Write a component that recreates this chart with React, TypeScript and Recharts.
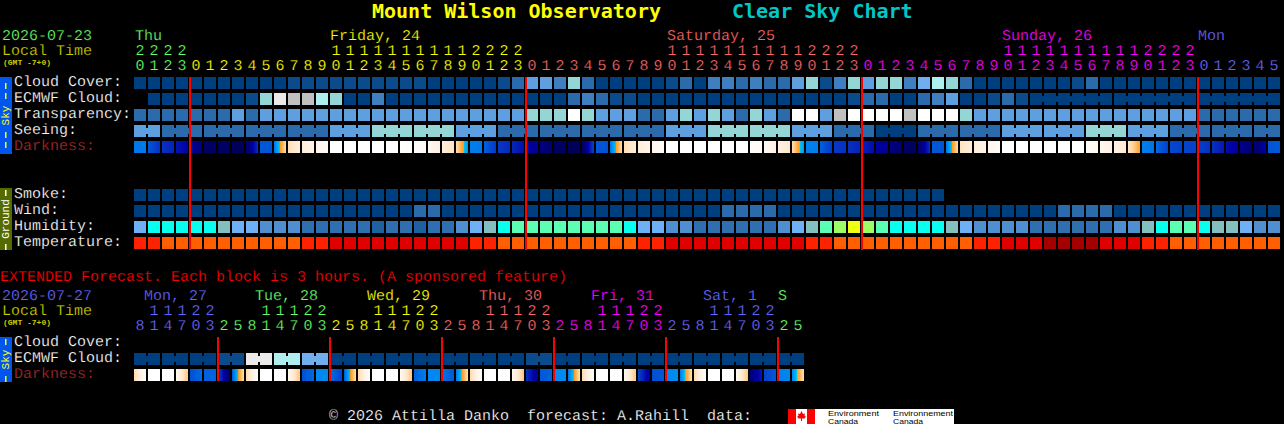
import React from 'react';
import { ScatterChart, Scatter, XAxis, YAxis } from 'recharts';

// --- data ---

// Index into cloudColors for cloud, ecmwf, transparency, seeing, smoke, wind
const cloudCover = [
  0,0,0,0,0,0,0,0,0,0, 0,1,1,1,1,1,1,1,1,1, 1,0,0,0,0,0,1,2,4,4,
  3,6,2,0,0,0,0,0,1,2, 0,3,3,2,3,2,2,4,6,1, 3,6,4,6,6,3,5,7,6,2,
  0,0,0,0,0,0,0,1,2,0, 0,0,0,0,0,0,0,0,0,0, 0,0,
];
const ecmwfCloud = [
  null,0,0,0,0,0,0,0,1,6, 8,9,9,7,6,0,0,3,0,0, 0,0,0,0,0,0,0,0,0,0,
  0,2,3,2,1,1,0,0,0,0, 0,0,0,0,0,0,0,0,0,0, 0,1,2,2,0,0,2,3,4,0,
  0,1,2,1,0,0,0,0,0,0, 0,0,0,0,0,0,0,0,0,0, 0,0,
];
const transparency = [
  2,2,2,2,2,2,2,4,2,4, 4,4,4,4,4,4,4,4,4,4, 4,4,4,4,4,4,4,4,6,6,
  6,10,6,4,4,4,2,2,4,6, 4,6,4,2,6,4,2,10,10,4, 9,10,10,10,10,9,10,10,10,6,
  4,4,4,4,4,4,4,4,4,4, 4,4,4,4,4,4,2,2,2,2, 2,2,
];
const seeing = [
  4,4, 2,2,2, 2,2,2, 2,2,2, 2,2,2, 4,4,4, 6,6,6, 6,6,6, 4,4,4, 2,2,2, 2,2,2,
  2,2,2, 2,2,2, 4,4,4, 6,6,6, 6,6,6, 4,4,4, 2,2,2, 0,0,0, 2,2,2, 2,2,2,
  4,4,4, 4,4,4, 6,6,6, 4,4,4, 2,2,2, 2,2,2, 2,2,
];
const smoke = [
  0,0,0,0,0,0,0,0,0,0, 0,0,0,0,0,0,0,0,0,0, 0,0,0,0,0,0,0,0,0,0,
  0,0,0,0,0,0,0,0,0,0, 0,0,0,0,0,0,0,0,0,0, 0,0,0,0,0,0,0,0,
];
const wind = [
  0,0,0,0,0,0,0,0,0,0, 0,0,0,0,0,0,0,0,0,0, 2,2,0,0,0,0,0,0,0,0,
  0,0,0,0,0,0,0,0,0,0, 0,0,2,2,2,2,0,0,0,0, 0,0,0,0,0,0,0,0,0,0,
  0,0,0,0,0,0,2,2,2,2, 0,0,0,0,0,0,0,0,0,0, 0,0,
];
const humidity = [
  0,1,1,1,1,1,2,0,0,3, 3,3,4,4,4,4,4,5,4,4, 5,4,4,3,0,2,1,6,6,6,
  6,6,6,6,6,1,0,0,3,3, 4,4,4,4,4,4,3,0,2,6, 7,8,7,6,1,1,1,1,2,0,
  3,3,3,3,4,4,4,4,4,4, 3,3,2,1,6,6,1,2,2,0, 3,3,
];
const temperature = [
  0,0,1,1,1,1,1,1,1,1, 1,1,0,0,2,2,2,2,2,2, 2,2,2,2,0,0,1,1,1,1,
  1,1,1,1,1,1,0,0,2,2, 2,2,2,2,2,2,2,2,0,0, 1,1,1,1,1,1,1,1,1,1,
  0,0,2,2,2,3,3,3,3,2, 2,2,0,0,1,1,1,1,1,1, 1,1,
];
// Darkness on a 0 (daylight) .. 11 (dark night) scale, at the start and end of each block
const darkStart = [
  6.3,7,8,8.6,9.2,10.5,10.6,10.7,10.5,7, 6.5,2.4,1.6,1,0,0,0,0,0,0,
  0.2,0.7,1.5,2.5,6.2,6.8,7.8,8.2,9,9.8, 10.6,10.8,10.7,7,6.5,2.4,1.6,0.9,0,0,
  0,0,0,0,0.2,0.6,1.2,2.5,6.2,6.8, 7.8,8,8.3,9,9.8,10.5,10.5,7,6.5,2.2,
  1.5,0.9,0,0,0,0,0,0,0.3,0.8, 1.2,2,6.2,6.6,7.4,7.5,7.6,8,8.7,9.5, 10.4,7.1,
];
const darkEnd = [
  6.3,8,8.3,9,10,10.5,10.6,10.7,8,7.1, 2.5,1.5,1,0.5,0,0,0,0,0,0.2,
  0.4,1.4,2.2,5.6,6.3,7.8,8.2,8.7,9.5,10.3, 10.6,10.8,7.5,7.2,2.5,1.6,1,0.4,0,0,
  0,0,0,0,0.4,1.3,2,5.6,6.2,7.8, 8,8.3,8.8,9.5,10.2,10.6,8,7.1,2.5,1.6,
  1,0.4,0,0,0,0,0,0,0.6,1.3, 1.8,4.2,6.4,7.6,7.6,7.6,8,8.5,9.3,10.2, 9,7,
];

const extEcmwf = [
  0,0,0,0,0,0,1,1,8,8, 7,7,5,5,0,0,0,0,0,0, 0,0,0,0,0,0,0,0,1,1,
  0,0,0,0,0,0,0,0,0,0, 0,0,0,0,0,0,0,0,
];
const extDarkStart = [
  2.6,0,0,0.6,7.2,6.8,7.5,7, 2.6,0,0,0.6,7.2,6,6.5,7, 2.6,0,0,0.6,6.8,6,6.4,6.4,
  2.6,0,0,0.6,8,7,6,6.5, 2.6,0,0,0.6,7.5,7.2,6,6.3, 2.6,0,0,0.6,10,7.5,6.2,6,
];
const extDarkEnd = [
  0.2,0,0,3.3,6.6,6.8,10.5,2.4, 0.2,0,0,3.3,6.6,6,7.5,2.4, 0.2,0,0,3.3,6.2,6,7,2.4,
  0.2,0,0,3.3,9.5,6.8,5.9,2.4, 0.2,0,0,3.3,9.5,7,5.9,2.4, 0.2,0,0,3.3,8.5,7,6,2.4,
];

const mainHours = [20,21,22,23,0,1,2,3,4,5,6,7,8,9,10,11,12,13,14,15,16,17,18,19,20,21,22,23,0,1,2,3,4,5,6,7,8,9,10,11,12,13,14,15,16,17,18,19,20,21,22,23,0,1,2,3,4,5,6,7,8,9,10,11,12,13,14,15,16,17,18,19,20,21,22,23,0,1,2,3,4,5];
const extHours = [8,11,14,17,20,23,2,5,8,11,14,17,20,23,2,5,8,11,14,17,20,23,2,5,8,11,14,17,20,23,2,5,8,11,14,17,20,23,2,5,8,11,14,17,20,23,2,5];
const midnights = [4, 28, 52, 76];
const extMidnights = [6, 14, 22, 30, 38, 46];

const mainDays = [
  { text: 'Thu', x: 135, color: '#66ff66', from: 0 },
  { text: 'Friday, 24', x: 330, color: '#ffff00', from: 4 },
  { text: 'Saturday, 25', x: 667, color: '#ff6666', from: 28 },
  { text: 'Sunday, 26', x: 1002, color: '#ff00ff', from: 52 },
  { text: 'Mon', x: 1198, color: '#6666ff', from: 76 },
];
const extDays = [
  { text: 'Mon, 27', x: 144, color: '#6666ff', from: 0 },
  { text: 'Tue, 28', x: 255, color: '#66ff66', from: 6 },
  { text: 'Wed, 29', x: 367, color: '#ffff00', from: 14 },
  { text: 'Thu, 30', x: 479, color: '#ff6666', from: 22 },
  { text: 'Fri, 31', x: 591, color: '#ff00ff', from: 30 },
  { text: 'Sat, 1', x: 703, color: '#6666ff', from: 38 },
  { text: 'S', x: 778, color: '#66ff66', from: 46 },
];
const mainLabels = ['Cloud Cover:', 'ECMWF Cloud:', 'Transparency:', 'Seeing:', 'Darkness:'];
const groundLabels = ['Smoke:', 'Wind:', 'Humidity:', 'Temperature:'];
const extLabels = ['Cloud Cover:', 'ECMWF Cloud:', 'Darkness:'];

// --- colours ---

const cloudColors = ['#003f7f', '#0c4b8b', '#2c6bab', '#3f7fc0', '#5e9fdf', '#70aeee', '#94d5d5', '#aeeeee', '#eaeaea', '#c0c0c0', '#ffffff'];
const humidityColors = ['#6eb0f5', '#08fff0', '#84bfc0', '#4f8fd0', '#2f6fb0', '#1f60a0', '#5bffb3', '#9dff66', '#eeff11'];
const temperatureColors = ['#ff2200', '#ff5f00', '#e10000', '#a50000'];
const darkRamp: [number, string][] = [
  [0, '#ffffff'], [1, '#fff5ea'], [2, '#ffe8cc'], [3, '#ffcf90'], [4, '#ffa838'], [4.5, '#ff9a20'],
  [4.6, '#00c8f0'], [5, '#00b0f0'], [6, '#0088f0'], [7, '#0058d8'], [8, '#0830c0'], [9, '#0000a8'],
  [10, '#000078'], [11, '#000050'],
];

// --- layout of the grid, in pixels ---

const W = 1284;
const H = 424;
const GRID_X = 134;
const PITCH_X = 14;
const GRID_Y = 77;
const PITCH_Y = 16;
const CELL = 12;
const MONO = '"Liberation Mono", monospace';

// thin dark edge so the outline font sits closer to the thin bitmap one
const thin = { stroke: '#000000', strokeWidth: 0.2, paintOrder: 'fill stroke', textRendering: 'geometricPrecision' } as const;

const pxToRow = (y: number) => (y - GRID_Y) / PITCH_Y;

const lerpHex = (a: string, b: string, t: number) => {
  const pa = [1, 3, 5].map((i) => parseInt(a.slice(i, i + 2), 16));
  const pb = [1, 3, 5].map((i) => parseInt(b.slice(i, i + 2), 16));
  return `rgb(${pa.map((v, i) => Math.round(v + (pb[i] - v) * t)).join(',')})`;
};

const rampColor = (v: number) => {
  for (let i = 1; i < darkRamp.length; i++) {
    if (v <= darkRamp[i][0]) {
      const [v0, c0] = darkRamp[i - 1];
      const [v1, c1] = darkRamp[i];
      return lerpHex(c0, c1, (v - v0) / (v1 - v0));
    }
  }
  return darkRamp[darkRamp.length - 1][1];
};

// One block of a row, joined to the next one when the forecast step is longer than a block
const BlockShape = (props: any) => {
  const { cx, cy, payload } = props;
  return (
    <g>
      <rect x={cx} y={cy} width={CELL} height={CELL} fill={payload.fill} />
      {payload.join && <rect x={cx + CELL} y={cy + 3} width={PITCH_X - CELL} height={CELL - 6} fill={payload.fill} />}
    </g>
  );
};

const DarkShape = (props: any) => {
  const { cx, cy, payload } = props;
  const { start, end, id } = payload;
  const inner = darkRamp.map((s) => s[0]).filter((v) => v > Math.min(start, end) && v < Math.max(start, end));
  const values = [start, ...(start < end ? inner : inner.reverse()), end];
  return (
    <g>
      <defs>
        <linearGradient id={id} x1="0" y1="0" x2="1" y2="0">
          {values.map((v, i) => (
            <stop key={i} offset={end === start ? i : (v - start) / (end - start)} stopColor={rampColor(v)} />
          ))}
        </linearGradient>
      </defs>
      <rect x={cx} y={cy} width={CELL} height={CELL} fill={`url(#${id})`} />
    </g>
  );
};

const DigitShape = (props: any) => {
  const { cx, cy, payload } = props;
  return (
    <text x={cx + CELL / 2} y={cy} textAnchor="middle" fontFamily={MONO} fontSize={15} fill={payload.color} style={thin}>
      {payload.text}
    </text>
  );
};

// Midnight marker, drawn as the last series so it stays above the blocks
const MidnightShape = (props: any) => {
  const { cx, cy, payload } = props;
  return <rect x={cx - 1} y={cy} width={2} height={payload.span * PITCH_Y} fill="#ff0000" />;
};

const blockRow = (values: (number | null)[], row: number, colors: string[], joins?: (col: number) => boolean) =>
  values
    .map((v, col) => (v === null ? null : { col, row, fill: colors[v], join: joins ? joins(col) : false }))
    .filter(Boolean);

const darkRow = (starts: number[], ends: number[], row: number, prefix: string) =>
  starts.map((start, col) => ({ col, row, start, end: ends[col], id: `${prefix}${col}` }));

const dayColor = (days: { color: string; from: number }[], col: number) =>
  [...days].reverse().find((d) => col >= d.from)!.color;

const onesRow = (hours: number[], days: any[], row: number) =>
  hours.map((h, col) => ({ col, row, text: String(h % 10), color: dayColor(days, col) }));

const tensRow = (hours: number[], days: any[], row: number) =>
  hours
    .map((h, col) => ({ col, row, text: String(Math.floor(h / 10)), color: dayColor(days, col), h }))
    .filter((d) => d.h >= 10);

const ROW_EXT_ECMWF = pxToRow(353);
const ROW_EXT_DARK = pxToRow(369);

const seeingJoin = (col: number) => col < 81 && (col + 1) % 3 !== 2;
const ecmwfJoin = (col: number) => col >= 64 && col < 81 && (col - 63) % 6 !== 0;
const extJoin = (col: number) => col % 2 === 0;

const blockSeries = [
  blockRow(cloudCover, 0, cloudColors),
  blockRow(ecmwfCloud, 1, cloudColors, ecmwfJoin),
  blockRow(transparency, 2, cloudColors),
  blockRow(seeing, 3, cloudColors, seeingJoin),
  blockRow(smoke, 7, cloudColors),
  blockRow(wind, 8, cloudColors),
  blockRow(humidity, 9, humidityColors),
  blockRow(temperature, 10, temperatureColors),
  blockRow(extEcmwf, ROW_EXT_ECMWF, cloudColors, extJoin),
];
const darkSeries = [
  darkRow(darkStart, darkEnd, 4, 'dark'),
  darkRow(extDarkStart, extDarkEnd, ROW_EXT_DARK, 'extdark'),
];
const digitSeries = [
  onesRow(mainHours, mainDays, pxToRow(70)),
  tensRow(mainHours, mainDays, pxToRow(55)),
  onesRow(extHours, extDays, pxToRow(330)),
  tensRow(extHours, extDays, pxToRow(315)),
];
const midnightData = [
  ...midnights.map((col) => ({ col, row: 0, span: pxToRow(250) })),
  ...extMidnights.map((col) => ({ col, row: pxToRow(337), span: pxToRow(381) - pxToRow(337) })),
];

const Label = ({ x, y, color = '#ffffff', size = 15, children, ...rest }: any) => (
  <text x={x} y={y} fill={color} fontFamily={MONO} fontSize={size} style={{ whiteSpace: 'pre', ...thin }} {...rest}>
    {children}
  </text>
);

const SideBar = ({ top, bottom, fill, color, text, dashes }: any) => {
  const mid = (top + bottom) / 2;
  return (
    <g>
      <rect x={0} y={top} width={12} height={bottom - top} fill={fill} />
      <text
        x={6}
        y={mid}
        transform={`rotate(-90 6 ${mid})`}
        textAnchor="middle"
        dominantBaseline="central"
        fill={color}
        fontFamily={MONO}
        fontSize={11}
      >
        {text}
      </text>
      {dashes.map((y: number) => (
        <rect key={y} x={5} y={y} width={1.5} height={6} fill={color} />
      ))}
    </g>
  );
};

const Overlay = () => (
  <svg width={W} height={H} style={{ position: 'absolute', left: 0, top: 0 }}>
    <text x={372} y={18} fill="#ffff00" fontFamily='"DejaVu Sans Mono", monospace' fontWeight="bold" fontSize={20}>
      Mount Wilson Observatory
    </text>
    <text x={732} y={18} fill="#00c8c8" fontFamily='"DejaVu Sans Mono", monospace' fontWeight="bold" fontSize={20}>
      Clear Sky Chart
    </text>

    <Label x={2} y={40} color="#66ff66">2026-07-23</Label>
    <Label x={2} y={55} color="#cccc00">Local Time</Label>
    <text x={3} y={65} fill="#cccc00" fontFamily={MONO} fontSize={8} fontWeight="bold">(GMT -7+0)</text>
    {mainDays.map((d) => (
      <Label key={d.text} x={d.x} y={40} color={d.color}>{d.text}</Label>
    ))}

    <SideBar top={77} bottom={154} fill="#0055ee" color="#ffff00" text="Sky" dashes={[83, 93, 132, 142]} />
    <SideBar top={188} bottom={250} fill="#556b00" color="#ffffff" text="Ground" dashes={[190, 244]} />
    <SideBar top={337} bottom={382} fill="#0055ee" color="#ffff00" text="Sky" dashes={[339, 376]} />

    {mainLabels.map((t, i) => (
      <Label key={t} x={14} y={86 + i * PITCH_Y} color={t === 'Darkness:' ? '#a52a2a' : '#ffffff'}>{t}</Label>
    ))}
    {groundLabels.map((t, i) => (
      <Label key={t} x={14} y={198 + i * PITCH_Y}>{t}</Label>
    ))}

    <Label x={0} y={281} color="#ff0000">EXTENDED Forecast. Each block is 3 hours. (A sponsored feature)</Label>
    <Label x={2} y={300} color="#6666ff">2026-07-27</Label>
    <Label x={2} y={315} color="#cccc00">Local Time</Label>
    <text x={3} y={325} fill="#cccc00" fontFamily={MONO} fontSize={8} fontWeight="bold">(GMT -7+0)</text>
    {extDays.map((d) => (
      <Label key={d.text} x={d.x} y={300} color={d.color}>{d.text}</Label>
    ))}
    {extLabels.map((t, i) => (
      <Label key={t} x={14} y={346 + i * PITCH_Y} color={t === 'Darkness:' ? '#a52a2a' : '#ffffff'}>{t}</Label>
    ))}

    <Label x={329} y={420}>© 2026 Attilla Danko  forecast: A.Rahill  data:</Label>

    <rect x={788} y={409} width={166} height={15} fill="#ffffff" />
    <rect x={788} y={409} width={8} height={15} fill="#ff0000" />
    <rect x={807} y={409} width={8} height={15} fill="#ff0000" />
    <path d="M801.5 411 L803 414 L805 413.5 L804.5 416 L806 416.5 L804.5 418.5 L802 418.5 L802 421 L801 421 L801 418.5 L798.5 418.5 L797 416.5 L798.5 416 L798 413.5 L800 414 Z" fill="#ff0000" />
    <g fontFamily='"Liberation Sans", sans-serif' fontSize={7.5} fill="#000000">
      <text x={828} y={415.5} textLength={51} lengthAdjust="spacingAndGlyphs">Environment</text>
      <text x={828} y={423.5} textLength={30} lengthAdjust="spacingAndGlyphs">Canada</text>
      <text x={893} y={415.5} textLength={60} lengthAdjust="spacingAndGlyphs">Environnement</text>
      <text x={893} y={423.5} textLength={30} lengthAdjust="spacingAndGlyphs">Canada</text>
    </g>
  </svg>
);

export default function App() {
  return (
    <div style={{ position: 'absolute', left: 0, top: 0, width: W, height: H, background: '#000000', overflow: 'hidden' }}>
      <ScatterChart width={W} height={H} margin={{ top: 0, right: 0, bottom: 0, left: 0 }}>
        <XAxis type="number" dataKey="col" domain={[-GRID_X / PITCH_X, (W - GRID_X) / PITCH_X]} hide allowDataOverflow />
        <YAxis type="number" dataKey="row" domain={[-GRID_Y / PITCH_Y, (H - GRID_Y) / PITCH_Y]} reversed hide allowDataOverflow />
        {blockSeries.map((data, i) => (
          <Scatter key={`b${i}`} data={data as any[]} shape={BlockShape} isAnimationActive={false} />
        ))}
        {darkSeries.map((data, i) => (
          <Scatter key={`d${i}`} data={data} shape={DarkShape} isAnimationActive={false} />
        ))}
        {digitSeries.map((data, i) => (
          <Scatter key={`h${i}`} data={data} shape={DigitShape} isAnimationActive={false} />
        ))}
        <Scatter data={midnightData} shape={MidnightShape} isAnimationActive={false} />
      </ScatterChart>
      <Overlay />
    </div>
  );
}
